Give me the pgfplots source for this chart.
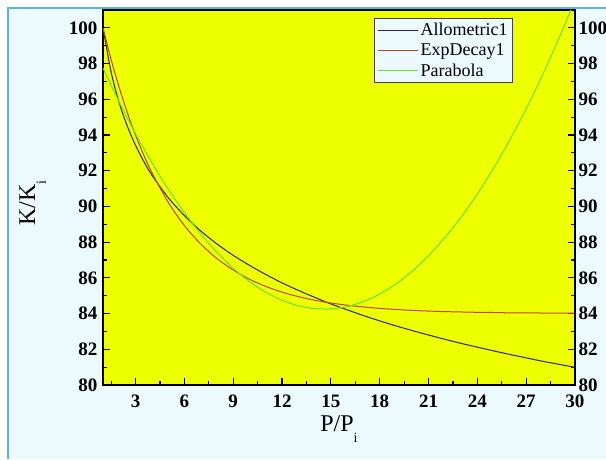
\documentclass[border=0pt]{standalone}
\usepackage{pgfplots}
\pgfplotsset{compat=1.18}
\usepackage{fontspec}
\setmainfont{Liberation Serif}

\definecolor{panel}{RGB}{236,250,253}
\definecolor{frameblue}{RGB}{85,182,222}
\definecolor{plotyellow}{RGB}{238,255,0}
\definecolor{allo}{RGB}{40,40,70}
\definecolor{expd}{RGB}{185,70,30}
\definecolor{para}{RGB}{105,225,45}

\begin{document}
\begin{tikzpicture}
\useasboundingbox (0,0) rectangle (606pt,459pt);
\fill[white] (0,0) rectangle (606pt,459pt);
\fill[panel] (8pt,0) rectangle (606pt,451pt);
\draw[frameblue, line width=2pt] (8pt,0) -- (8pt,451pt) -- (606pt,451pt);

\begin{axis}[
    at={(103pt,74pt)}, anchor=south west,
    scale only axis, width=472pt, height=375pt,
    xmin=1, xmax=30, ymin=80, ymax=101,
    xtick={3,6,...,30}, ytick={80,82,...,100},
    minor xtick={1.5,4.5,...,28.5},
    minor ytick={81,83,...,99},
    xtick pos=bottom, ytick pos=both, yticklabel pos=left,
    tick align=inside,
    major tick length=7pt, minor tick length=4pt,
    tick style={black, line width=1.2pt},
    axis line style={black, line width=1.3pt},
    axis background/.style={fill=plotyellow},
    /pgf/number format/assume math mode=true,
    ticklabel style={font=\fontsize{19}{19}\selectfont\bfseries},
    xticklabel style={yshift=-6pt},
    yticklabel style={xshift=-2pt},
    xlabel={P/P\raisebox{-0.45em}{\fontsize{14}{14}\selectfont i}},
    ylabel={K/K\raisebox{-0.45em}{\fontsize{14}{14}\selectfont i}},
    label style={font=\fontsize{24}{24}\selectfont},
    xlabel style={at={(axis description cs:0.5,-0.125)}, anchor=base},
    ylabel style={at={(axis description cs:-0.144,0.485)}, anchor=base},
    legend style={at={(rel axis cs:0.8686,0.9787)}, anchor=north east,
        fill=panel, draw=black!75, line width=0.8pt,
        font=\fontsize{18}{20}\selectfont, row sep=2.5pt,
        inner xsep=3pt, inner ysep=3pt},
    legend cell align=left,
    legend image code/.code={\draw[#1, line width=1pt] (0pt,0pt) -- (40pt,0pt);},
]
\addplot[allo, line width=1pt, smooth] coordinates {
(1,100) (1.5,97.52) (2,95.79) (2.5,94.48) (3,93.42) (3.5,92.53) (4,91.76)
(5,90.50) (6,89.49) (7,88.63) (8,87.90) (9,87.26) (10,86.70) (11,86.19)
(12,85.72) (13,85.30) (14,84.91) (15,84.54) (16,84.21) (17,83.89) (18,83.59)
(19,83.31) (20,83.05) (21,82.80) (22,82.56) (23,82.33) (24,82.12) (25,81.91)
(26,81.71) (27,81.52) (28,81.33) (29,81.16) (30,80.99)};
\addlegendentry{Allometric1}
\addplot[expd, line width=1pt, smooth] coordinates {
(1,100) (1.5,98.22) (2,96.65) (2.5,95.24) (3,93.99) (3.5,92.88) (4,91.90)
(5,90.24) (6,88.93) (7,87.90) (8,87.08) (9,86.44) (10,85.92) (11,85.52)
(12,85.20) (13,84.95) (14,84.75) (15,84.59) (16,84.47) (17,84.37) (18,84.29)
(19,84.23) (20,84.18) (21,84.14) (22,84.11) (23,84.09) (24,84.07) (25,84.06)
(26,84.04) (27,84.04) (28,84.03) (29,84.02) (30,84.02)};
\addlegendentry{ExpDecay1}
\addplot[para, line width=1pt, smooth] coordinates {
(1,97.75) (2,95.84) (3,94.07) (4,92.45) (5,90.98) (6,89.65) (7,88.47)
(8,87.43) (9,86.54) (10,85.79) (11,85.20) (12,84.74) (13,84.44) (14,84.28)
(15,84.26) (16,84.39) (17,84.67) (18,85.09) (19,85.66) (20,86.38) (21,87.24)
(22,88.25) (23,89.40) (24,90.70) (25,92.15) (26,93.74) (27,95.47) (28,97.36)
(29,99.39) (30,101.56)};
\addlegendentry{Parabola}
\end{axis}

\begin{axis}[
    at={(103pt,74pt)}, anchor=south west,
    scale only axis, width=472pt, height=375pt,
    xmin=1, xmax=30, ymin=80, ymax=101,
    ytick={80,82,...,100},
    axis y line*=right, hide x axis,
    ytick style={draw=none},
    axis line style={draw=none},
    /pgf/number format/assume math mode=true,
    yticklabel style={font=\fontsize{19}{19}\selectfont\bfseries, xshift=0pt},
]
\end{axis}
\end{tikzpicture}
\end{document}
